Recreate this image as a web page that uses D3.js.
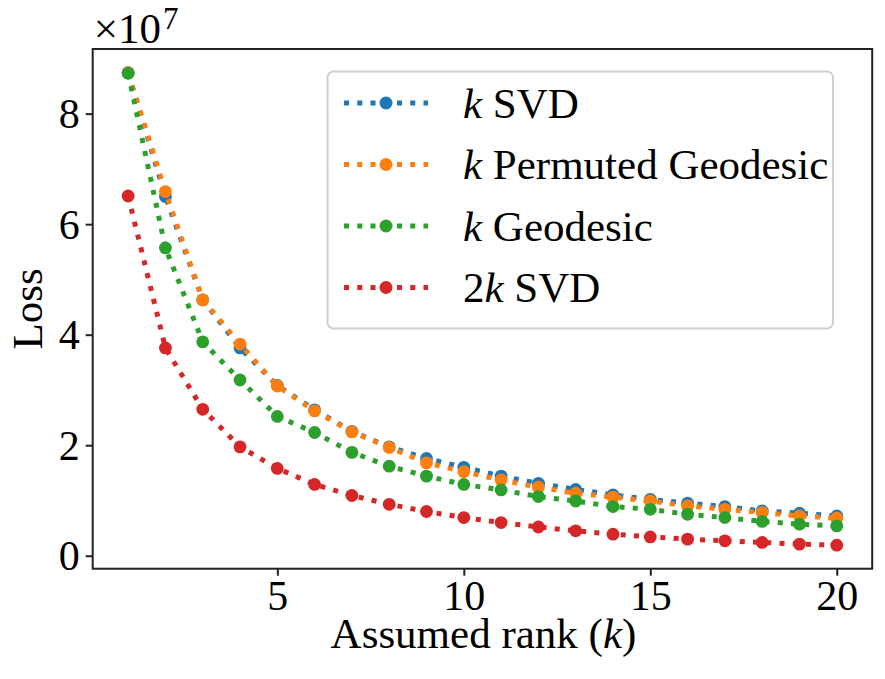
<!DOCTYPE html>
<html>
<head>
<meta charset="utf-8">
<script src="https://cdn.jsdelivr.net/npm/d3@7"></script>
<style>
  body { margin: 0; background: #fff; }
  text { font-family: "Liberation Serif", "Times New Roman", serif; fill: #000; }
</style>
</head>
<body>
<svg id="chart" width="885" height="679"></svg>
<script>
// ---- data (values in units of 1e7) ----
const ranks = [1,2,3,4,5,6,7,8,9,10,11,12,13,14,15,16,17,18,19,20];
const kSVD =        [8.74,6.50,4.63,3.76,3.08,2.64,2.25,1.97,1.76,1.60,1.44,1.31,1.20,1.10,1.02,0.95,0.89,0.81,0.77,0.72];
const kPermGeo =    [8.74,6.59,4.63,3.83,3.07,2.62,2.24,1.96,1.68,1.52,1.37,1.24,1.13,1.06,0.99,0.90,0.84,0.78,0.72,0.68];
const kGeodesic =   [8.73,5.57,3.87,3.18,2.52,2.23,1.87,1.62,1.44,1.29,1.19,1.07,0.99,0.89,0.84,0.75,0.69,0.62,0.57,0.54];
const twoKSVD =     [6.51,3.76,2.65,1.97,1.58,1.29,1.09,0.93,0.80,0.69,0.60,0.52,0.45,0.39,0.34,0.30,0.27,0.24,0.21,0.19];
const seriesNames = ["k SVD", "k Permuted Geodesic", "k Geodesic", "2k SVD"];
const seriesColors = ["#1f77b4", "#ff7f0e", "#2ca02c", "#d62728"];
const xTicks = [5, 10, 15, 20];
const yTicks = [0, 2, 4, 6, 8];

const series = [kSVD, kPermGeo, kGeodesic, twoKSVD];

const svg = d3.select("#chart");
const L = 92.7, R = 872.2, T = 49, B = 568.7;
const FS_TICK = 42, FS = 43;

const x = d3.scaleLinear().domain([0.05, 20.95]).range([L, R]);
const y = d3.scaleLinear().domain([-0.235, 9.17]).range([B, T]);

svg.append("rect").attr("width", 885).attr("height", 679).attr("fill", "#fff");

// series lines + markers
const line = d3.line().x((d, i) => x(ranks[i])).y(d => y(d));
series.forEach((vals, si) => {
  const g = svg.append("g");
  g.append("path")
    .attr("d", line(vals))
    .attr("fill", "none")
    .attr("stroke", seriesColors[si])
    .attr("stroke-width", 5)
    .attr("stroke-dasharray", "5,8.25");
  g.selectAll("circle").data(vals).join("circle")
    .attr("cx", (d, i) => x(ranks[i]))
    .attr("cy", d => y(d))
    .attr("r", 6.4)
    .attr("fill", seriesColors[si]);
});

// axes frame
svg.append("rect")
  .attr("x", L).attr("y", T).attr("width", R - L).attr("height", B - T)
  .attr("fill", "none").attr("stroke", "#222").attr("stroke-width", 2);

// x axis
const xAxis = svg.append("g").attr("transform", `translate(0,${B})`)
  .call(d3.axisBottom(x).tickValues(xTicks).tickSize(7).tickFormat(d3.format("d")));
xAxis.select(".domain").remove();
xAxis.selectAll(".tick line").attr("stroke", "#222").attr("stroke-width", 2);
xAxis.selectAll(".tick text")
  .attr("font-size", FS_TICK).attr("fill", "#000")
  .attr("y", 41).attr("dy", null);

// y axis
const yAxis = svg.append("g").attr("transform", `translate(${L},0)`)
  .call(d3.axisLeft(y).tickValues(yTicks).tickSize(7).tickFormat(d3.format("d")));
yAxis.select(".domain").remove();
yAxis.selectAll(".tick line").attr("stroke", "#222").attr("stroke-width", 2);
yAxis.selectAll(".tick text")
  .attr("font-size", FS_TICK).attr("fill", "#000")
  .attr("x", -13).attr("dy", "0.34em");
svg.selectAll(".tick text").style("font-family", '"Liberation Serif", "Times New Roman", serif');

// offset text ×10^7
const off = svg.append("text").attr("x", L + 1).attr("y", 43).attr("font-size", FS);
off.append("tspan").text("×10");
off.append("tspan").attr("font-size", 31).attr("dy", -14).attr("dx", 2).text("7");

// axis labels
svg.append("text")
  .attr("x", (L + R) / 2 + 1).attr("y", 648)
  .attr("text-anchor", "middle").attr("font-size", FS)
  .html('Assumed rank (<tspan font-style="italic">k</tspan>)');
svg.append("text")
  .attr("transform", `translate(42,${(T + B) / 2}) rotate(-90)`)
  .attr("text-anchor", "middle").attr("font-size", FS)
  .text("Loss");

// legend
const lg = svg.append("g");
lg.append("rect")
  .attr("x", 327.5).attr("y", 71.5).attr("width", 505.5).attr("height", 257)
  .attr("rx", 6).attr("ry", 6)
  .attr("fill", "#fff").attr("fill-opacity", 0.8)
  .attr("stroke", "#d0d0d0").attr("stroke-width", 2);
const rowY = [103, 164.5, 226, 287.5];
const legendLabels = [
  '<tspan font-style="italic">k</tspan> SVD',
  '<tspan font-style="italic">k</tspan> Permuted Geodesic',
  '<tspan font-style="italic">k</tspan> Geodesic',
  '2<tspan font-style="italic">k</tspan> SVD'
];
seriesNames.forEach((name, i) => {
  const gy = rowY[i];
  lg.append("line")
    .attr("x1", 344).attr("x2", 428).attr("y1", gy).attr("y2", gy)
    .attr("stroke", seriesColors[i]).attr("stroke-width", 5)
    .attr("stroke-dasharray", "5,8.25");
  lg.append("circle").attr("cx", 386).attr("cy", gy).attr("r", 6.5).attr("fill", seriesColors[i]);
  lg.append("text")
    .attr("x", 463).attr("y", gy).attr("dy", "0.34em")
    .attr("font-size", FS)
    .html(legendLabels[i]);
});
</script>
</body>
</html>
